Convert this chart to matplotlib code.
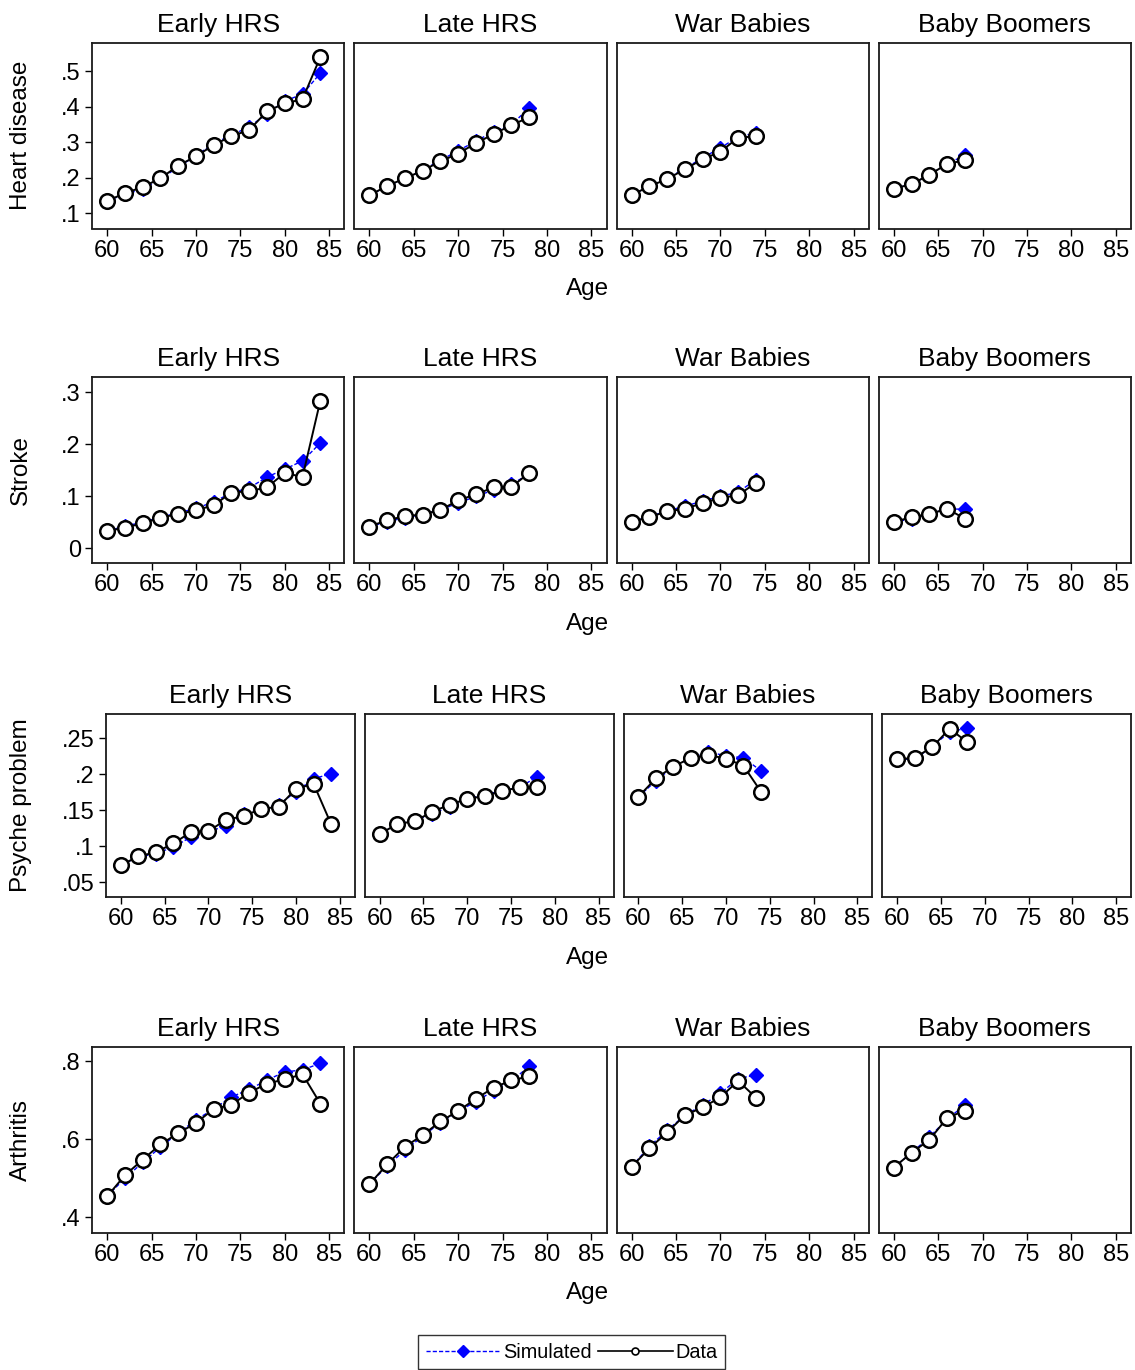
import matplotlib
matplotlib.use("Agg")
import matplotlib.pyplot as plt
from matplotlib.lines import Line2D
from matplotlib.ticker import FuncFormatter

plt.rcParams['font.family'] = ['Liberation Sans', 'DejaVu Sans']

# ---------------- data ----------------
cohorts = ["Early HRS", "Late HRS", "War Babies", "Baby Boomers"]
outcomes = ["Heart disease", "Stroke", "Psyche problem", "Arthritis"]

age_early = [60, 62, 64, 66, 68, 70, 72, 74, 76, 78, 80, 82, 84]
age_late = [60, 62, 64, 66, 68, 70, 72, 74, 76, 78]
age_war = [60, 62, 64, 66, 68, 70, 72, 74]
age_boom = [60, 62, 64, 66, 68]

# Heart disease
heart_early_data = [0.135, 0.156, 0.174, 0.198, 0.234, 0.260, 0.292, 0.317, 0.334, 0.387, 0.409, 0.421, 0.539]
heart_early_sim = [0.135, 0.153, 0.168, 0.196, 0.230, 0.262, 0.296, 0.320, 0.343, 0.380, 0.416, 0.435, 0.494]
heart_late_data = [0.150, 0.177, 0.198, 0.220, 0.246, 0.268, 0.297, 0.323, 0.348, 0.370]
heart_late_sim = [0.150, 0.176, 0.197, 0.221, 0.249, 0.276, 0.303, 0.330, 0.349, 0.397]
heart_war_data = [0.151, 0.176, 0.196, 0.224, 0.252, 0.273, 0.313, 0.316]
heart_war_sim = [0.151, 0.176, 0.198, 0.226, 0.256, 0.284, 0.315, 0.326]
heart_boom_data = [0.169, 0.182, 0.208, 0.239, 0.249]
heart_boom_sim = [0.169, 0.182, 0.208, 0.239, 0.263]

# Stroke
stroke_early_data = [0.033, 0.040, 0.048, 0.059, 0.066, 0.073, 0.083, 0.107, 0.110, 0.117, 0.145, 0.137, 0.283]
stroke_early_sim = [0.033, 0.043, 0.050, 0.060, 0.068, 0.077, 0.089, 0.107, 0.116, 0.137, 0.152, 0.168, 0.202]
stroke_late_data = [0.042, 0.054, 0.062, 0.065, 0.074, 0.092, 0.104, 0.117, 0.118, 0.145]
stroke_late_sim = [0.042, 0.051, 0.059, 0.065, 0.074, 0.087, 0.100, 0.112, 0.123, 0.143]
stroke_war_data = [0.051, 0.060, 0.071, 0.076, 0.087, 0.097, 0.102, 0.126]
stroke_war_sim = [0.051, 0.061, 0.072, 0.081, 0.091, 0.100, 0.108, 0.132]
stroke_boom_data = [0.051, 0.060, 0.066, 0.076, 0.057]
stroke_boom_sim = [0.050, 0.057, 0.066, 0.076, 0.075]

# Psyche problem
psyche_early_data = [0.074, 0.086, 0.092, 0.104, 0.120, 0.121, 0.137, 0.142, 0.152, 0.155, 0.180, 0.187, 0.131]
psyche_early_sim = [0.074, 0.085, 0.090, 0.099, 0.113, 0.121, 0.128, 0.145, 0.152, 0.158, 0.176, 0.194, 0.201]
psyche_late_data = [0.117, 0.131, 0.135, 0.148, 0.158, 0.166, 0.170, 0.177, 0.182, 0.182]
psyche_late_sim = [0.117, 0.131, 0.136, 0.145, 0.155, 0.166, 0.172, 0.177, 0.182, 0.197]
psyche_war_data = [0.169, 0.1945, 0.211, 0.223, 0.227, 0.222, 0.212, 0.176]
psyche_war_sim = [0.169, 0.191, 0.211, 0.223, 0.231, 0.226, 0.223, 0.205]
psyche_boom_data = [0.221, 0.223, 0.238, 0.2635, 0.245]
psyche_boom_sim = [0.221, 0.221, 0.239, 0.259, 0.2645]

# Arthritis
arth_early_data = [0.454, 0.508, 0.548, 0.587, 0.616, 0.642, 0.678, 0.689, 0.720, 0.743, 0.754, 0.767, 0.692]
arth_early_sim = [0.455, 0.500, 0.541, 0.580, 0.616, 0.650, 0.678, 0.709, 0.728, 0.752, 0.773, 0.778, 0.795]
arth_late_data = [0.485, 0.536, 0.581, 0.611, 0.646, 0.673, 0.704, 0.733, 0.751, 0.762]
arth_late_sim = [0.485, 0.532, 0.572, 0.608, 0.643, 0.672, 0.697, 0.725, 0.750, 0.787]
arth_war_data = [0.530, 0.577, 0.618, 0.662, 0.682, 0.708, 0.750, 0.707]
arth_war_sim = [0.530, 0.582, 0.623, 0.662, 0.688, 0.718, 0.756, 0.765]
arth_boom_data = [0.528, 0.566, 0.599, 0.655, 0.674]
arth_boom_sim = [0.528, 0.566, 0.606, 0.652, 0.688]

x_ticks = [60, 65, 70, 75, 80, 85]
heart_ticks = [0.1, 0.2, 0.3, 0.4, 0.5]
stroke_ticks = [0.0, 0.1, 0.2, 0.3]
psyche_ticks = [0.05, 0.1, 0.15, 0.2, 0.25]
arth_ticks = [0.4, 0.6, 0.8]

ages = [age_early, age_late, age_war, age_boom]
data_rows = [
    [heart_early_data, heart_late_data, heart_war_data, heart_boom_data],
    [stroke_early_data, stroke_late_data, stroke_war_data, stroke_boom_data],
    [psyche_early_data, psyche_late_data, psyche_war_data, psyche_boom_data],
    [arth_early_data, arth_late_data, arth_war_data, arth_boom_data],
]
sim_rows = [
    [heart_early_sim, heart_late_sim, heart_war_sim, heart_boom_sim],
    [stroke_early_sim, stroke_late_sim, stroke_war_sim, stroke_boom_sim],
    [psyche_early_sim, psyche_late_sim, psyche_war_sim, psyche_boom_sim],
    [arth_early_sim, arth_late_sim, arth_war_sim, arth_boom_sim],
]
yticks_rows = [heart_ticks, stroke_ticks, psyche_ticks, arth_ticks]
ylims = [(0.057, 0.58), (-0.028, 0.328), (0.0296, 0.284), (0.3615, 0.8368)]

# ---------------- layout (pixels) ----------------
W, H = 1135, 1370
fig = plt.figure(figsize=(W / 100, H / 100), dpi=100)
fig.patch.set_facecolor("white")

row_tb = [(42.7, 228.5), (377.5, 563), (714, 897), (1047, 1232.5)]
row_left = [92, 92, 106, 92]
right_edge = 1131
gap = 10

BLUE = "#0000ff"


def fmt(v, pos):
    if abs(v) < 1e-9:
        return "0"
    s = ("%.2f" % v).rstrip("0")
    if s.startswith("0"):
        s = s[1:]
    return s


for r in range(4):
    top, bot = row_tb[r]
    left = row_left[r]
    pw = (right_edge - left - 3 * gap) / 4.0
    ph = bot - top
    for c in range(4):
        x0 = left + c * (pw + gap)
        ax = fig.add_axes([x0 / W, 1 - bot / H, pw / W, ph / H])
        ax.plot(ages[c], sim_rows[r][c], color=BLUE, linestyle=(0, (3, 1.5)), lw=1.0,
                marker="D", ms=7, mfc=BLUE, mec=BLUE, zorder=2)
        ax.plot(ages[c], data_rows[r][c], color="black", linestyle="-", lw=1.4,
                marker="o", ms=10.5, mfc="white", mec="black", mew=1.8, zorder=3)
        ax.set_xlim(58.3, 86.7)
        ax.set_ylim(*ylims[r])
        ax.set_xticks(x_ticks)
        ax.set_yticks(yticks_rows[r])
        ax.yaxis.set_major_formatter(FuncFormatter(fmt))
        ax.tick_params(axis="both", direction="out", length=5, width=1.0,
                       labelsize=17, pad=3, colors="black")
        if c > 0:
            ax.tick_params(axis="y", left=False, labelleft=False)
        for sp in ax.spines.values():
            sp.set_linewidth(1.3)
            sp.set_color("#1a1a1a")
        ax.set_title(cohorts[c], fontsize=19, pad=8)
    # y label
    fig.text(21 / W, 1 - ((top + bot) / 2) / H, outcomes[r], rotation=90,
             ha="center", va="center", fontsize=17.5)
    # x label
    fig.text(588 / W, 1 - (bot + 61) / H, "Age", ha="center", va="center", fontsize=17.5)

# ---------------- legend ----------------
handles = [
    Line2D([], [], color=BLUE, linestyle=(0, (3, 1.5)), lw=1.0, marker="D", ms=6,
           mfc=BLUE, mec=BLUE),
    Line2D([], [], color="black", linestyle="-", lw=1.2, marker="o", ms=5,
           mfc="white", mec="black", mew=1.2),
]
leg = fig.legend(handles, ["Simulated", "Data"], loc="center",
                 bbox_to_anchor=(571.5 / W, 1 - 1352 / H), ncol=2, fontsize=14.3,
                 frameon=True, fancybox=False, edgecolor="black", handlelength=3.8,
                 handletextpad=0.1, columnspacing=0.3, borderpad=0.4,
                 borderaxespad=0)
leg.get_frame().set_linewidth(1.0)

fig.savefig("out.png", dpi=100, facecolor="white")
